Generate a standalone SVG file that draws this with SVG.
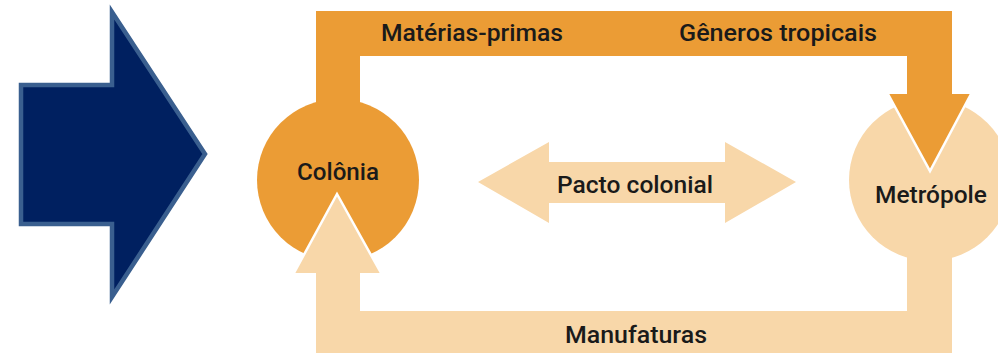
<svg xmlns="http://www.w3.org/2000/svg" width="998" height="353" viewBox="0 0 998 353">
<style>
.orange{fill:#eb9c35}
.peach{fill:#f8d7a9}
.edge{fill:none;stroke:#ffffff;stroke-width:2.5;stroke-linejoin:miter}
.lbl{font-family:Roboto,"Liberation Sans",sans-serif;font-weight:500;font-size:23px;fill:#1a1a1a}
</style>
<rect width="998" height="353" fill="#ffffff"/>
<g id="big-arrow">
<polygon points="21,85 112,85 112,12 205,154 112,297 112,224 21,224" fill="#002060" stroke="#3a5f8f" stroke-width="4.5" stroke-linejoin="miter"/>
</g>
<g id="metropole">
<circle cx="930" cy="180" r="81" class="peach"/>
</g>
<g id="colonia">
<circle cx="338" cy="180" r="81" class="orange"/>
</g>
<g id="connectors">
<polygon class="orange" points="316,11 952,11 952,94 971,94 930,171 888,94 907,94 907,56 360,56 360,112 316,112"/>
<polyline class="edge" points="888,94 930,171 971,94"/>
<polygon class="peach" points="907,240 952,240 952,353 316,353 316,273 294,273 337,194 381,273 360,273 360,311 907,311"/>
<polyline class="edge" points="294,273 337,194 381,273"/>
<polygon class="peach" points="478,182 549,142 549,162 725,162 725,142 796,182 725,223 725,203 549,203 549,223"/>
</g>
<g id="labels">
<text class="lbl" x="381" y="41" textLength="182" lengthAdjust="spacingAndGlyphs">Matérias-primas</text>
<text class="lbl" x="679" y="41" textLength="198" lengthAdjust="spacingAndGlyphs">Gêneros tropicais</text>
<text class="lbl" x="297" y="180" textLength="82" lengthAdjust="spacingAndGlyphs">Colônia</text>
<text class="lbl" x="875" y="203" textLength="112" lengthAdjust="spacingAndGlyphs">Metrópole</text>
<text class="lbl" x="557" y="193" textLength="156" lengthAdjust="spacingAndGlyphs">Pacto colonial</text>
<text class="lbl" x="565" y="343" textLength="142" lengthAdjust="spacingAndGlyphs">Manufaturas</text>
</g>
</svg>
